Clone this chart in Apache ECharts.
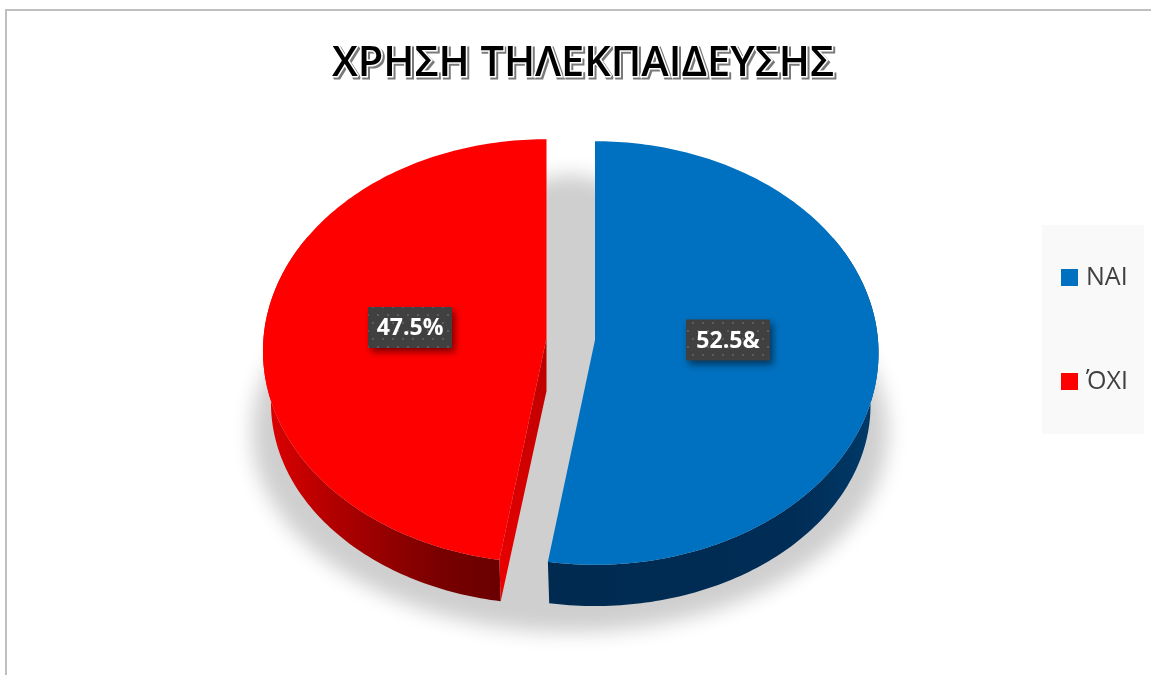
<!DOCTYPE html>
<html>
<head>
<meta charset="utf-8">
<style>
  html, body { margin: 0; padding: 0; background: #fff; }
  #chart { width: 1151px; height: 675px; }
</style>
<script src="https://cdn.jsdelivr.net/npm/echarts@6/dist/echarts.min.js"></script>
</head>
<body>
<div id="chart"></div>
<script>
// Values
const categories = ['ΝΑΙ', 'ΌΧΙ'];
const shares = [52.5, 47.5];
const sliceLabels = ['52.5&', '47.5%'];
const titleText = 'ΧΡΗΣΗ ΤΗΛΕΚΠΑΙΔΕΥΣΗΣ';
const sliceColors = ['#0070c0', '#ff0000'];

// Disc geometry: perspective circle for the top face, smaller one for the underside
const topFace = { rx: 283, ry: 211, k: 0.0613 };
const underside = { rx: 275, ry: 200, k: 0.0613, drop: 53 };
const apexes = [{ x: 595, y: 340 }, { x: 546.5, y: 338 }];
const labelCenters = [{ x: 728, y: 340 }, { x: 410, y: 327.5 }];
const wallFills = [
  [[0, '#002a50'], [0.75, '#002d56'], [1, '#003a6a']],
  [[0, '#e00000'], [0.3, '#b00000'], [0.75, '#780000'], [1, '#6a0000']]
];
const cutFill = [[0, '#b80000'], [0.6, '#d80000'], [1, '#ee0000']];

function project(face, apex, thetaDeg, dropped) {
  const t = thetaDeg * Math.PI / 180;
  const c = Math.sin(t), s = -Math.cos(t);
  const w = 1 - face.k * s;
  return [
    apex.x + face.rx * c / w,
    apex.y + (dropped ? face.drop : 0) + face.ry * s / w
  ];
}

function arc(face, apex, a0, a1, dropped) {
  const pts = [];
  const n = Math.max(2, Math.ceil(Math.abs(a1 - a0)));
  for (let i = 0; i <= n; i++) pts.push(project(face, apex, a0 + (a1 - a0) * i / n, dropped));
  return pts;
}

// Dotted fill for the value tags
const dotTile = document.createElement('canvas');
dotTile.width = 20;
dotTile.height = 16;
(function () {
  const g = dotTile.getContext('2d');
  g.fillStyle = '#404040';
  g.fillRect(0, 0, 20, 16);
  g.fillStyle = '#5c5c5c';
  [[2, 2], [12, 2], [7, 10], [17, 10]].forEach(p => g.fillRect(p[0], p[1], 2, 2));
})();

function linear(stops, x2, y2) {
  return new echarts.graphic.LinearGradient(0, 0, x2, y2,
    stops.map(s => ({ offset: s[0], color: s[1] })));
}

function sliceItem(index) {
  return function (params, api) {
    const value = api.value(0);
    const before = shares.slice(0, index).reduce((a, b) => a + b, 0);
    const total = shares.reduce((a, b) => a + b, 0);
    const a0 = before / total * 360;
    const a1 = a0 + value / total * 360;
    const apex = apexes[index];
    const color = api.visual('color');
    const children = [];

    // Outer wall: the far part ends behind the top face
    const lo = Math.max(a0, 60), hi = Math.min(a1, 300);
    if (hi > lo) {
      const wall = arc(topFace, apex, lo, hi, false)
        .concat(arc(underside, apex, hi, lo, true));
      children.push({
        type: 'polygon', silent: true,
        shape: { points: wall },
        style: { fill: linear(wallFills[index], 1, 0) }
      });
    }

    // Cut wall, visible only on the slice whose straight edge faces forward
    if (index === 1) {
      const p = project(topFace, apex, a0, false);
      const q = project(underside, apex, a0, true);
      children.push({
        type: 'polygon', silent: true,
        shape: { points: [[apex.x, apex.y], p, q, [apex.x, apex.y + underside.drop]] },
        style: { fill: linear(cutFill, 0, 1) }
      });
    }

    // Top face
    children.push({
      type: 'polygon', silent: true,
      shape: { points: [[apex.x, apex.y]].concat(arc(topFace, apex, a0, a1, false)) },
      style: { fill: color }
    });

    // Value tag
    const tag = labelCenters[index];
    children.push({
      type: 'rect', silent: true,
      shape: { x: tag.x - 42, y: tag.y - 20.5, width: 84, height: 41 },
      style: {
        fill: { image: dotTile, repeat: 'repeat' },
        shadowColor: 'rgba(0,0,0,0.5)', shadowBlur: 7, shadowOffsetX: 3, shadowOffsetY: 4
      }
    });
    children.push({
      type: 'text', silent: true,
      style: {
        x: tag.x, y: tag.y + 1,
        text: sliceLabels[index],
        fill: '#ffffff',
        font: 'bold 23px "Open Sans"',
        align: 'center', verticalAlign: 'middle'
      }
    });

    return { type: 'group', children: children };
  };
}

// Soft ground shadow: only the canvas shadow lands on screen, the shapes sit off to the side
const shadowBlobs = [
  { cx: 570, cy: 432, rx: 318, ry: 200 },
  { cx: 570, cy: 305, rx: 100, ry: 130 }
];
function groundShadow() {
  const away = 3000;
  return {
    type: 'group',
    children: shadowBlobs.map(b => ({
      type: 'ellipse', silent: true,
      shape: { cx: b.cx - away, cy: b.cy, rx: b.rx, ry: b.ry },
      style: {
        fill: '#000',
        shadowColor: '#cfcfcf', shadowBlur: 20, shadowOffsetX: away, shadowOffsetY: 0
      }
    }))
  };
}

const chart = echarts.init(document.getElementById('chart'), null, { renderer: 'canvas' });

const series = [{
  type: 'custom',
  silent: true,
  coordinateSystem: 'none',
  legendHoverLink: false,
  animation: false,
  data: [[0]],
  renderItem: groundShadow,
  z: 1
}].concat(categories.map((name, i) => ({
  type: 'custom',
  name: name,
  coordinateSystem: 'none',
  animation: false,
  itemStyle: { color: sliceColors[i] },
  data: [[shares[i]]],
  renderItem: sliceItem(i),
  z: 2
})));

const titleFont = { fontFamily: '"Open Sans"', fontSize: 41.5, fontWeight: 600 };

chart.setOption({
  animation: false,
  backgroundColor: '#ffffff',
  title: [{
    // offset grey copy acting as the drop shadow of the heading
    text: titleText,
    left: 580,
    top: 40,
    textAlign: 'center',
    textStyle: Object.assign({
      color: '#7a7a7a', textBorderColor: '#7a7a7a', textBorderWidth: 3
    }, titleFont)
  }, {
    text: titleText,
    left: 578,
    top: 38,
    textAlign: 'center',
    textStyle: Object.assign({
      color: '#000000', textBorderColor: '#ffffff', textBorderWidth: 3
    }, titleFont)
  }],
  legend: {
    data: categories,
    orient: 'vertical',
    left: 1042,
    top: 225,
    padding: [40, 16, 40, 19],
    backgroundColor: '#f9f9f9',
    icon: 'rect',
    itemWidth: 17,
    itemHeight: 17,
    itemGap: 79,
    selectedMode: false,
    textStyle: { fontFamily: '"Open Sans"', fontSize: 25, color: '#404040', padding: [0, 0, 0, 3] }
  },
  graphic: [{
    type: 'polyline', silent: true, z: 0,
    shape: { points: [[6, 675], [6, 10], [1151, 10]] },
    style: { stroke: '#bfbfbf', lineWidth: 2, fill: null }
  }],
  series: series
});
</script>
</body>
</html>
